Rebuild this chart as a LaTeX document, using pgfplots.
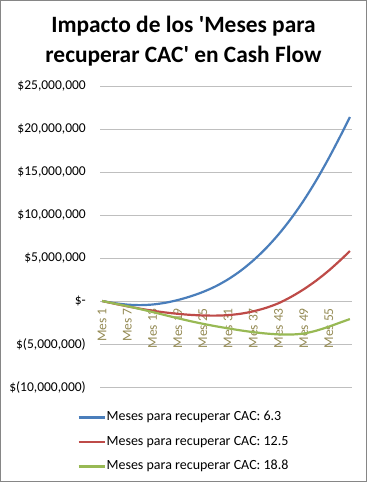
\documentclass[border=0pt]{standalone}
\usepackage{fontspec}
\setmainfont{Carlito}[Ligatures=TeXOff]
\usepackage{pgfplots}
\pgfplotsset{compat=1.18}
\definecolor{cblue}{HTML}{4A7EBB}
\definecolor{cred}{HTML}{BE4B48}
\definecolor{cgreen}{HTML}{98B954}
\definecolor{olive}{HTML}{948A54}
\definecolor{gridc}{HTML}{BFBFBF}
\definecolor{framec}{HTML}{868686}
\begin{document}
\begin{tikzpicture}
\useasboundingbox (0,0) rectangle (367pt,482pt);
\draw[framec, line width=1pt] (0.5pt,0.5pt) rectangle (366.5pt,481.5pt);
\node[anchor=base, font=\fontsize{23.4}{28}\selectfont\bfseries] at (183.5pt,449pt) {Impacto de los 'Meses para};
\node[anchor=base, font=\fontsize{23.4}{28}\selectfont\bfseries] at (183.5pt,419pt) {recuperar CAC' en Cash Flow};
\begin{axis}[
  at={(100pt,95pt)}, anchor=south west,
  scale only axis, width=252pt, height=301pt,
  xmin=0.5, xmax=60.5, ymin=-10, ymax=25,
  enlargelimits=false,
  axis x line*=middle, axis y line*=left,
  x axis line style={gridc, line width=0.9pt},
  y axis line style={draw=none},
  hide obscured x ticks=false, hide obscured y ticks=false,
  major tick length=0pt,
  ymajorgrids, grid style={gridc, line width=0.9pt},
  ytick={-10,-5,0,5,10,15,20,25},
  yticklabels={{\$(10,000,000)},{\$(5,000,000)},{\$-},{\$5,000,000},{\$10,000,000},{\$15,000,000},{\$20,000,000},{\$25,000,000}},
  yticklabel style={font=\fontsize{13.5}{16}\selectfont, anchor=east, inner sep=0pt, xshift=-14pt},
  xtick={1,7,13,19,25,31,37,43,49,55},
  xticklabels={Mes 1,Mes 7,Mes 13,Mes 19,Mes 25,Mes 31,Mes 37,Mes 43,Mes 49,Mes 55},
  xticklabel style={font=\fontsize{13.5}{16}\selectfont, text=olive, rotate=90, anchor=east, inner sep=0pt},
  xticklabel shift=7pt,
  legend style={at={(axis description cs:0.331,-0.069)}, anchor=north, draw=none, fill=none,
    font=\fontsize{14}{16}\selectfont, row sep=9.5pt,
    nodes={inner sep=1pt, text height=10pt, text depth=3pt}},
  legend cell align=left,
  legend image code/.code={\draw[#1] (0pt,0pt) -- (26pt,0pt);},
]
\addplot[cblue, line width=2.2pt, smooth] coordinates {
(1,0) (4,-0.25) (7,-0.42) (10,-0.48) (13,-0.41) (16,-0.21) (19,0.11) (22,0.53) (25,1.05) (28,1.70) (31,2.52) (34,3.52) (37,4.72) (40,6.12) (43,7.74) (46,9.59) (49,11.69) (52,14.04) (55,16.64) (58,19.44) (60,21.39)};
\addlegendentry{Meses para recuperar CAC: 6.3}
\addplot[cred, line width=2.2pt, smooth] coordinates {
(1,0) (4,-0.32) (7,-0.62) (10,-0.89) (13,-1.13) (16,-1.33) (19,-1.49) (22,-1.61) (25,-1.68) (28,-1.70) (31,-1.64) (34,-1.48) (37,-1.2) (40,-0.8) (43,-0.26) (46,0.48) (49,1.36) (52,2.38) (55,3.55) (58,4.87) (60,5.81)};
\addlegendentry{Meses para recuperar CAC: 12.5}
\addplot[cgreen, line width=2.2pt, smooth] coordinates {
(1,0) (4,-0.3) (7,-0.6) (10,-0.93) (13,-1.28) (16,-1.64) (19,-2.0) (22,-2.34) (25,-2.65) (28,-2.93) (31,-3.18) (34,-3.42) (37,-3.62) (40,-3.78) (43,-3.88) (46,-3.9) (49,-3.78) (52,-3.45) (55,-2.98) (58,-2.45) (60,-2.1)};
\addlegendentry{Meses para recuperar CAC: 18.8}
\end{axis}
\end{tikzpicture}
\end{document}
